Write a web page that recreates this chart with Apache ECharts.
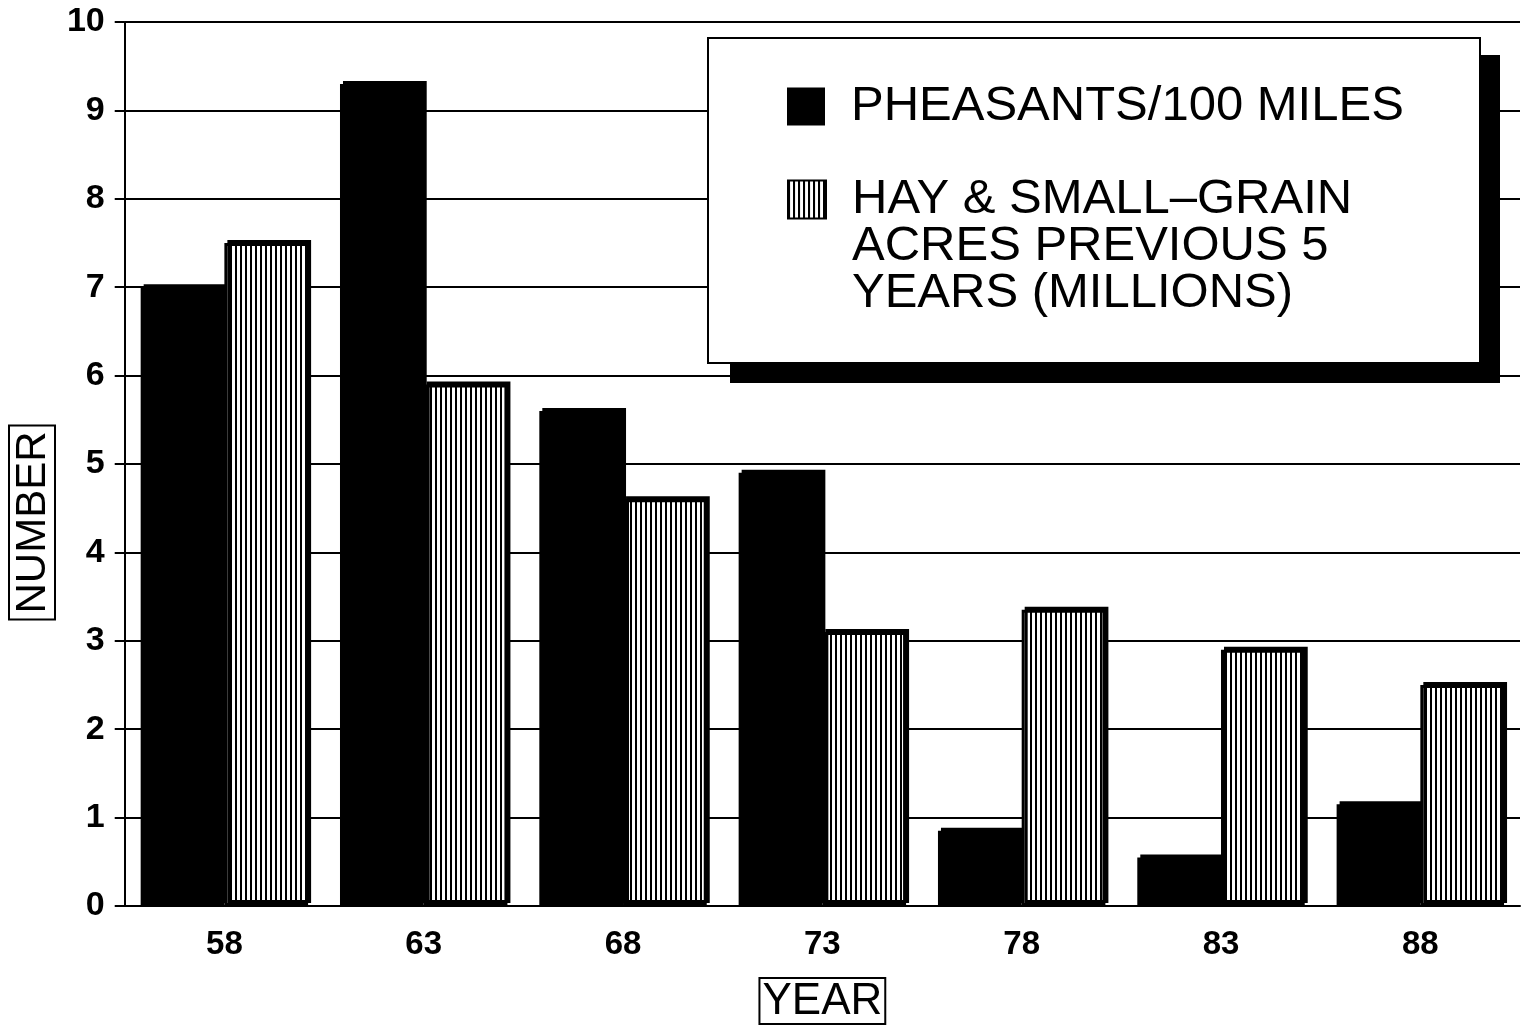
<!DOCTYPE html>
<html>
<head>
<meta charset="utf-8">
<title>Pheasants</title>
<script src="https://cdn.jsdelivr.net/npm/echarts@6/dist/echarts.min.js"></script>
<style>
  html, body { margin: 0; padding: 0; background: #fff; }
  #main { width: 1535px; height: 1031px; }
</style>
</head>
<body>
<div id="main"></div>
<script>
'use strict';

// data
var years = ['58', '63', '68', '73', '78', '83', '88'];
var pheasants = [7.0, 9.3, 5.6, 4.9, 0.85, 0.55, 1.15];
var hayAcres = [7.5, 5.9, 4.6, 3.1, 3.35, 2.9, 2.5];
var yTicks = [0, 1, 2, 3, 4, 5, 6, 7, 8, 9, 10];

var FONT = 'Liberation Sans';

// vertical stripe fill for the hay bars
function stripes() {
  var c = document.createElement('canvas');
  c.width = 5;
  c.height = 8;
  var ctx = c.getContext('2d');
  ctx.fillStyle = '#fff';
  ctx.fillRect(0, 0, 5, 8);
  ctx.fillStyle = '#000';
  ctx.fillRect(0, 0, 2, 8);
  return c;
}
var hayFill = { image: stripes(), repeat: 'repeat' };

var myChart = echarts.init(document.getElementById('main'));

var legendText = { fontFamily: FONT, fontSize: 49, color: '#000', lineHeight: 47, padding: [0, 0, 0, 21] };

var option = {
  backgroundColor: '#fff',
  animation: false,
  grid: { left: 120, right: 15, top: 22, bottom: 125 },
  graphic: [
    // legend box + its drop shadow
    { type: 'rect', z: 10, shape: { x: 730, y: 55, width: 770, height: 328 }, style: { fill: '#000' } },
    { type: 'rect', z: 11, shape: { x: 708, y: 38, width: 772, height: 325 }, style: { fill: '#fff', stroke: '#000', lineWidth: 2 } }
  ],
  legend: [
    {
      z: 20,
      left: 787,
      top: 82,
      padding: 0,
      icon: 'rect',
      itemWidth: 38,
      itemHeight: 38,
      data: ['PHEASANTS/100 MILES'],
      textStyle: legendText
    },
    {
      z: 20,
      left: 787,
      top: 81,
      padding: 0,
      icon: 'rect',
      itemWidth: 38,
      itemHeight: 38,
      data: ['HAY & SMALL-GRAIN'],
      // two empty lines on top so the box lines up with the first text line
      formatter: function() {
        return ' \n \nHAY & SMALL\u2013GRAIN\nACRES PREVIOUS 5\nYEARS (MILLIONS)';
      },
      textStyle: legendText
    }
  ],
  xAxis: {
    type: 'category',
    data: years,
    name: 'YEAR',
    nameLocation: 'middle',
    nameGap: 72,
    nameTextStyle: {
      fontFamily: FONT, fontSize: 44, color: '#000',
      borderColor: '#000', borderWidth: 2, padding: [2, 3, 0, 3]
    },
    axisLine: { lineStyle: { color: '#000', width: 2 } },
    axisTick: { length: 12, lineStyle: { color: '#000', width: 2 } },
    axisLabel: { fontFamily: FONT, fontSize: 33, fontWeight: 'bold', color: '#000', margin: 22 }
  },
  yAxis: {
    type: 'value',
    min: yTicks[0],
    max: yTicks[yTicks.length - 1],
    interval: 1,
    // spacer after the word pushes the boxed name down the axis
    name: '{b|NUMBER}{s|}',
    nameLocation: 'middle',
    nameGap: 64,
    nameRotate: 90,
    nameTextStyle: {
      rich: {
        b: {
          fontFamily: FONT, fontSize: 42, color: '#000', lineHeight: 44,
          borderColor: '#000', borderWidth: 2, padding: [3, 6, 1, 6]
        },
        s: { width: 117, height: 10 }
      }
    },
    axisLine: { show: true, lineStyle: { color: '#000', width: 2 } },
    axisTick: { show: true, length: 10, lineStyle: { color: '#000', width: 2 } },
    axisLabel: { fontFamily: FONT, fontSize: 34, fontWeight: 'bold', color: '#000', margin: 20 },
    splitLine: { lineStyle: { color: '#000', width: 2 } }
  },
  series: [
    {
      name: 'PHEASANTS/100 MILES',
      type: 'bar',
      data: pheasants,
      barGap: '0%',
      barCategoryGap: '16%',
      itemStyle: { color: '#000', shadowColor: '#000', shadowOffsetX: 3, shadowOffsetY: -3, shadowBlur: 0 }
    },
    {
      name: 'HAY & SMALL-GRAIN',
      type: 'bar',
      data: hayAcres,
      itemStyle: {
        color: hayFill, borderColor: '#000', borderWidth: 3,
        shadowColor: '#000', shadowOffsetX: 3, shadowOffsetY: -3, shadowBlur: 0
      }
    }
  ]
};

myChart.setOption(option);
</script>
</body>
</html>
